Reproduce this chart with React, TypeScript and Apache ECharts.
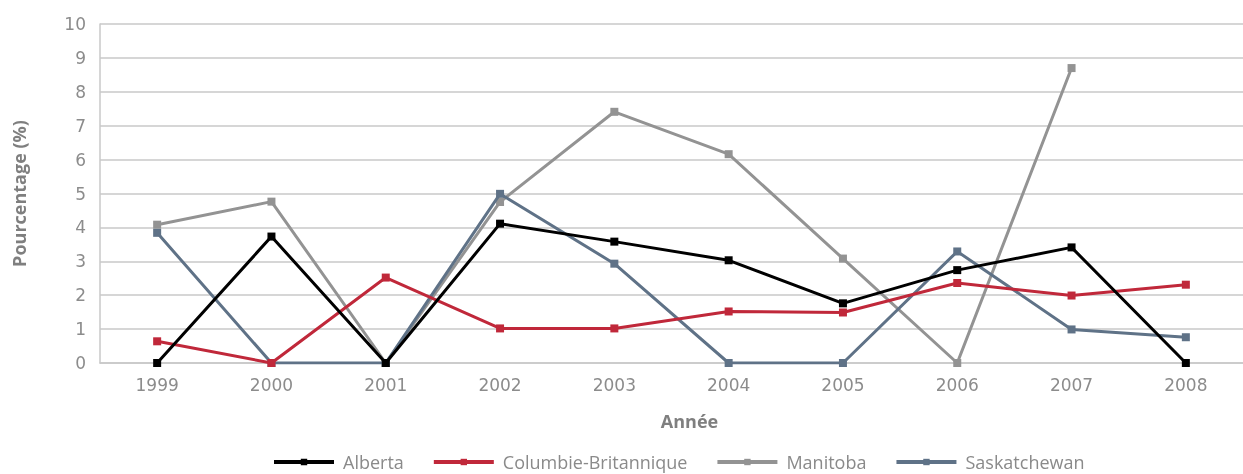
import React, { useEffect, useRef } from "react";
import * as echarts from "echarts";

const years = ["1999", "2000", "2001", "2002", "2003", "2004", "2005", "2006", "2007", "2008"];
const alberta = [0, 3.73, 0, 4.11, 3.58, 3.03, 1.76, 2.74, 3.41, 0];
const colombie = [0.64, 0, 2.52, 1.02, 1.02, 1.52, 1.49, 2.36, 1.99, 2.31];
const manitoba = [4.08, 4.76, 0, 4.75, 7.41, 6.16, 3.08, 0, 8.7, null];
const saskatchewan = [3.84, 0, 0, 4.99, 2.93, 0, 0, 3.29, 0.99, 0.76];

const FONT = "'Open Sans', 'Noto Sans', sans-serif";
const TICK_FONT = "'DejaVu Sans', sans-serif";
const LEGEND_FONT = "'Liberation Sans Narrow', 'Open Sans', sans-serif";

export default function App() {
  const ref = useRef<HTMLDivElement>(null);
  useEffect(() => {
    if (!ref.current) return;
    const chart = echarts.init(ref.current, null, { renderer: "svg" });
    const mk = (name: string, data: (number | null)[], color: string, z: number) => ({
      name,
      type: "line",
      data,
      symbol: "rect",
      symbolSize: 8,
      z,
      lineStyle: { color, width: 3 },
      itemStyle: { color },
      connectNulls: false,
    });
    chart.setOption({
      animation: false,
      grid: { left: 100, right: -7, top: 24, bottom: 111, containLabel: false },
      legend: {
        bottom: 2,
        left: 272,
        padding: 0,
        itemWidth: 60,
        itemHeight: 8,
        itemGap: 28,
        lineStyle: { width: 4 },
        textStyle: { fontFamily: LEGEND_FONT, fontSize: 18, lineHeight: 20, color: "#8a8a8a", padding: [0, 0, 0, 4] },
        data: ["Alberta", "Columbie-Britannique", "Manitoba", "Saskatchewan"],
      },
      xAxis: {
        type: "category",
        data: years,
        boundaryGap: true,
        name: "Année",
        nameLocation: "middle",
        nameGap: 49,
        nameTextStyle: { fontFamily: FONT, fontSize: 18, fontWeight: "bold", color: "#7f7f7f", padding: [0, 0, 0, 36] },
        axisLine: { lineStyle: { color: "#c8c8c8", width: 1.5 } },
        axisTick: { inside: true, length: 8, lineStyle: { color: "#c8c8c8" } },
        axisLabel: { fontFamily: TICK_FONT, fontSize: 17, color: "#8c8c8c", margin: 13 },
      },
      yAxis: {
        type: "value",
        min: 0,
        max: 10,
        interval: 1,
        name: "Pourcentage (%)",
        nameLocation: "middle",
        nameGap: 72,
        nameTextStyle: { fontFamily: FONT, fontSize: 18, fontWeight: "bold", color: "#7f7f7f" },
        axisLine: { show: true, lineStyle: { color: "#c8c8c8", width: 1.5 } },
        axisTick: { show: false },
        axisLabel: { fontFamily: TICK_FONT, fontSize: 17, color: "#8c8c8c", margin: 14 },
        splitLine: { lineStyle: { color: "#c8c8c8", width: 1.5 } },
      },
      series: [
        mk("Manitoba", manitoba, "#939393", 2),
        mk("Saskatchewan", saskatchewan, "#5f7287", 3),
        mk("Columbie-Britannique", colombie, "#c0283a", 4),
        mk("Alberta", alberta, "#000000", 5),
      ],
    });
    return () => chart.dispose();
  }, []);
  return <div ref={ref} style={{ position: "fixed", left: 0, top: 0, width: 1243, height: 474 }} />;
}
